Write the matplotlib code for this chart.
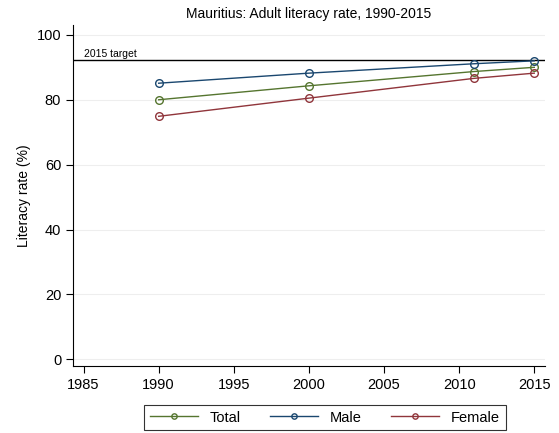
import matplotlib
matplotlib.use('Agg')
import matplotlib.pyplot as plt

plt.rcParams['font.family'] = ['Liberation Sans', 'DejaVu Sans']

years = [1990, 2000, 2011, 2015]
total = [80.0, 84.3, 88.7, 90.0]
male = [85.1, 88.2, 91.1, 92.0]
female = [74.9, 80.5, 86.6, 88.2]
target = 92.1

fig = plt.figure(figsize=(5.59, 4.33), dpi=100)
ax = fig.add_axes([0.1306, 0.155, 0.844, 0.787])

# horizontal target line with its label
ax.axhline(target, color='black', lw=1.0, zorder=1)
ax.text(1985, target + 0.6, '2015 target', fontsize=7.5, va='bottom', ha='left')

series = [('Total', total, '#55752f'), ('Male', male, '#1a476f'), ('Female', female, '#90353b')]
handles = []
for name, vals, col in series:
    h, = ax.plot(years, vals, color=col, lw=1.0, marker='o', ms=5.5,
                 mfc='none', mec=col, mew=1.0, label=name, zorder=3)
    handles.append(h)

ax.set_xlim(1984.3, 2015.7)
ax.set_ylim(-2, 103)
ax.set_xticks([1985, 1990, 1995, 2000, 2005, 2010, 2015])
ax.set_yticks([0, 20, 40, 60, 80, 100])
ax.tick_params(direction='out', length=5, labelsize=10.5, width=0.8)
ax.grid(axis='y', color='#eeeeee', lw=0.8)
ax.set_axisbelow(True)
for s in ['top', 'right']:
    ax.spines[s].set_visible(False)
ax.set_ylabel('Literacy rate (%)', fontsize=10)
ax.set_title('Mauritius: Adult literacy rate, 1990-2015', fontsize=10, pad=5)

leg = fig.legend(handles=handles, loc='center', bbox_to_anchor=(325 / 559, 1 - 417.5 / 433),
                 ncol=3, fontsize=10.5, frameon=True, fancybox=False, edgecolor='black',
                 markerscale=0.7, handlelength=3.3, columnspacing=2.0,
                 borderpad=0.4)
leg.get_frame().set_linewidth(0.8)

fig.savefig('out.png', dpi=100, facecolor='white')
